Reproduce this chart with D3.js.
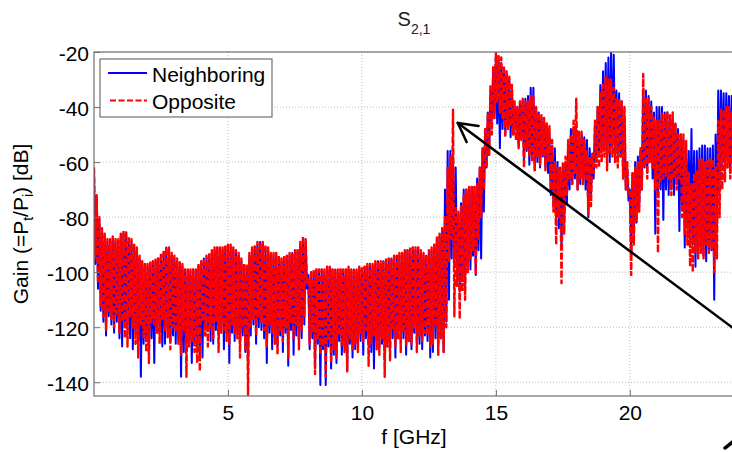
<!DOCTYPE html>
<html>
<head>
<meta charset="utf-8">
<script src="https://cdn.jsdelivr.net/npm/d3@7"></script>
<style>
  html, body { margin: 0; padding: 0; background: #fff; }
  svg { display: block; font-family: "Liberation Sans", Arial, sans-serif; }
</style>
</head>
<body>
<svg id="chart" width="732" height="453"></svg>
<script>
// Sweep grid of the measurement (GHz)
const fStart = 0;
const fStep = 0.05;

// S21 gain, neighboring placement [dB], one row per GHz
const neighboring = [
  -63, -97, -74, -106, -81, -114, -85, -118, -87, -123, -89, -116, -89, -119, -88, -122, -89, -118, -89, -124,
  -87, -127, -86, -120, -86, -121, -88, -124, -89, -128, -91, -122, -92, -125, -95, -138, -97, -126, -97, -125,
  -98, -129, -97, -124, -96, -133, -96, -120, -95, -122, -94, -127, -93, -126, -91, -121, -92, -125, -94, -123,
  -95, -126, -96, -124, -97, -138, -98, -129, -99, -129, -100, -124, -100, -133, -99, -126, -100, -127, -98, -130,
  -97, -131, -95, -120, -95, -121, -94, -125, -93, -126, -92, -121, -91, -123, -92, -119, -92, -128, -91, -122,
  -91, -133, -91, -122, -92, -125, -93, -121, -94, -127, -96, -123, -98, -129, -98, -136, -94, -123, -92, -119,
  -91, -126, -90, -120, -89, -121, -90, -124, -91, -133, -92, -122, -94, -128, -94, -124, -93, -127, -95, -123,
  -96, -129, -95, -122, -94, -134, -94, -121, -93, -130, -93, -123, -92, -126, -90, -124, -88, -119, -89, -106,
  -101, -128, -100, -124, -100, -135, -99, -126, -100, -141, -99, -128, -100, -141, -98, -127, -99, -135, -99, -130,
  -99, -133, -100, -125, -99, -130, -100, -127, -99, -136, -99, -126, -100, -131, -99, -128, -100, -127, -99, -125,
  -99, -130, -98, -124, -98, -126, -97, -129, -98, -135, -97, -125, -96, -127, -97, -126, -96, -132, -96, -127,
  -96, -128, -95, -124, -95, -131, -94, -122, -94, -126, -93, -124, -93, -130, -92, -125, -92, -128, -91, -122,
  -92, -124, -91, -126, -93, -128, -94, -123, -94, -125, -93, -131, -92, -129, -90, -124, -88, -126, -87, -122,
  -84, -129, -70, -118, -56, -110, -56, -95, -58, -98, -62, -100, -80, -107, -75, -102, -70, -107, -70, -98,
  -70, -99, -69, -94, -69, -101, -66, -92, -62, -95, -56, -78, -50, -62, -42, -55, -34, -45, -27, -42,
  -22, -46, -23, -55, -24, -48, -26, -50, -28, -47, -30, -51, -34, -50, -40, -48, -40, -54, -38, -50,
  -38, -60, -37, -56, -36, -61, -33, -58, -33, -63, -40, -60, -42, -62, -44, -58, -45, -62, -47, -64,
  -50, -72, -54, -76, -55, -80, -60, -84, -63, -90, -62, -82, -60, -75, -54, -70, -48, -68, -48, -66,
  -48, -70, -50, -68, -50, -66, -51, -70, -52, -80, -55, -72, -57, -66, -46, -60, -40, -58, -32, -56,
  -27, -55, -24, -58, -22, -60, -20, -54, -21, -58, -34, -57, -35, -58, -38, -66, -44, -70, -62, -74,
  -70, -93, -64, -86, -60, -82, -58, -76, -56, -70, -34, -62, -34, -64, -36, -60, -38, -66, -42, -86,
  -40, -72, -40, -70, -40, -81, -42, -70, -42, -72, -44, -70, -44, -72, -46, -68, -48, -85, -50, -76,
  -52, -91, -54, -84, -56, -88, -48, -90, -56, -98, -56, -92, -55, -90, -54, -94, -54, -96, -55, -92,
  -55, -92, -54, -110, -50, -84, -34, -70, -34, -60, -35, -62, -35, -58, -36, -64, -36, -60, -38, -62,
  -38
];

// S21 gain, opposite placement [dB], one row per GHz
const opposite = [
  -62, -95, -72, -104, -80, -112, -84, -116, -86, -121, -88, -114, -88, -117, -87, -120, -88, -115, -88, -122,
  -86, -118, -85, -124, -85, -127, -87, -116, -88, -120, -90, -126, -91, -131, -94, -119, -96, -124, -97, -129,
  -97, -133, -96, -118, -96, -119, -95, -122, -95, -126, -93, -117, -92, -121, -91, -124, -91, -128, -93, -120,
  -94, -122, -95, -126, -96, -130, -97, -121, -99, -138, -99, -127, -99, -125, -99, -129, -99, -133, -97, -136,
  -96, -118, -95, -123, -94, -127, -93, -120, -92, -124, -91, -118, -91, -129, -91, -122, -91, -121, -90, -125,
  -90, -126, -90, -119, -91, -122, -92, -124, -93, -131, -95, -120, -97, -128, -97, -145, -93, -120, -91, -117,
  -90, -123, -89, -116, -89, -118, -89, -121, -90, -127, -91, -119, -93, -122, -93, -126, -93, -130, -94, -121,
  -95, -125, -94, -120, -94, -131, -93, -118, -93, -124, -92, -119, -92, -128, -89, -121, -87, -116, -88, -104,
  -102, -126, -100, -122, -99, -137, -99, -124, -99, -130, -99, -127, -99, -138, -98, -125, -98, -133, -99, -128,
  -99, -131, -99, -123, -99, -127, -99, -129, -99, -136, -98, -124, -99, -128, -99, -126, -99, -129, -98, -122,
  -98, -125, -98, -121, -97, -134, -97, -126, -97, -123, -96, -128, -96, -130, -96, -124, -96, -138, -95, -127,
  -95, -132, -95, -121, -94, -127, -94, -124, -93, -129, -93, -122, -92, -127, -92, -125, -91, -126, -91, -120,
  -91, -129, -91, -123, -92, -125, -93, -122, -94, -123, -92, -127, -91, -126, -90, -120, -87, -130, -86, -124,
  -84, -129, -80, -120, -62, -96, -58, -88, -41, -116, -76, -105, -78, -117, -76, -107, -72, -110, -70, -100,
  -69, -95, -69, -92, -69, -101, -68, -88, -62, -80, -55, -70, -48, -62, -42, -58, -32, -50, -25, -44,
  -20, -38, -21, -42, -22, -44, -25, -51, -27, -48, -29, -47, -32, -50, -38, -52, -40, -55, -38, -52,
  -37, -62, -38, -55, -38, -58, -36, -60, -36, -63, -40, -58, -42, -61, -43, -57, -44, -63, -46, -60,
  -47, -70, -52, -78, -60, -90, -62, -80, -62, -104, -60, -86, -58, -72, -52, -66, -50, -68, -45, -64,
  -37, -70, -49, -66, -49, -68, -52, -66, -56, -79, -58, -76, -57, -64, -45, -62, -40, -62, -35, -60,
  -32, -58, -29, -63, -30, -57, -30, -58, -33, -60, -37, -62, -37, -58, -38, -66, -40, -70, -60, -72,
  -71, -101, -64, -90, -62, -81, -60, -78, -55, -70, -28, -62, -37, -66, -37, -60, -40, -62, -44, -70,
  -45, -93, -45, -67, -42, -66, -43, -65, -42, -66, -43, -72, -42, -66, -46, -70, -50, -66, -50, -80,
  -50, -86, -52, -90, -64, -98, -68, -100, -64, -93, -63, -95, -59, -93, -59, -95, -60, -90, -59, -93,
  -59, -92, -59, -100, -62, -95, -45, -80, -41, -70, -41, -67, -40, -62, -40, -66, -42, -60, -44, -64,
  -45
];

// Axis ticks
const xTicks = [5, 10, 15, 20];
const yTicks = [-20, -40, -60, -80, -100, -120, -140];
const xDomain = [0, 24];
const yDomain = [-145, -20];

// Legend entries
const seriesNames = ["Neighboring", "Opposite"];

// Annotation arrow, in data units (tip first)
const arrowPoints = [[13.58, -45.8], [25, -128.6]];
const cornerStroke = [[23.55, -163.9], [23.85, -161.6]];

const svg = d3.select("#chart");
const plot = { left: 94, top: 52, right: 737, bottom: 396 };

const x = d3.scaleLinear().domain(xDomain).range([plot.left, plot.right]);
const y = d3.scaleLinear().domain(yDomain).range([plot.bottom, plot.top]);

const fontSize = 21;
const axisColor = "#707070";
const gridColor = "#bdbdbd";
const redDash = "7,2";

svg.append("defs").append("clipPath").attr("id", "plotClip")
  .append("rect")
  .attr("x", plot.left).attr("y", plot.top)
  .attr("width", plot.right - plot.left).attr("height", plot.bottom - plot.top);

// Grid
const grid = svg.append("g");
grid.selectAll("line.gx").data(xTicks).join("line")
  .attr("x1", d => x(d)).attr("x2", d => x(d))
  .attr("y1", plot.top).attr("y2", plot.bottom)
  .attr("stroke", gridColor).attr("stroke-width", 1).attr("stroke-dasharray", "1,2");
grid.selectAll("line.gy").data(yTicks).join("line")
  .attr("x1", plot.left).attr("x2", plot.right)
  .attr("y1", d => y(d)).attr("y2", d => y(d))
  .attr("stroke", gridColor).attr("stroke-width", 1).attr("stroke-dasharray", "1,2");

// Data lines
const toPoints = arr => arr.map((v, i) => [fStart + i * fStep, v]);
const line = d3.line().x(d => x(d[0])).y(d => y(d[1]));

const dataG = svg.append("g").attr("clip-path", "url(#plotClip)");
dataG.append("path")
  .attr("d", line(toPoints(neighboring)))
  .attr("fill", "none").attr("stroke", "#0000ff").attr("stroke-width", 2)
  .attr("stroke-linejoin", "round");
dataG.append("path")
  .attr("d", line(toPoints(opposite)))
  .attr("fill", "none").attr("stroke", "#ff0000").attr("stroke-width", 2.4)
  .attr("stroke-dasharray", redDash).attr("stroke-linejoin", "round");

// Axes frame with inward ticks
const axes = svg.append("g");
axes.append("rect")
  .attr("x", plot.left).attr("y", plot.top)
  .attr("width", plot.right - plot.left).attr("height", plot.bottom - plot.top)
  .attr("fill", "none").attr("stroke", axisColor).attr("stroke-width", 1.2);

const xAxis = d3.axisBottom(x).tickValues(xTicks).tickSize(-6).tickPadding(14)
  .tickFormat(d3.format("d"));
const yAxis = d3.axisLeft(y).tickValues(yTicks).tickSize(-6).tickPadding(10)
  .tickFormat(d => String(d).replace("\u2212", "-"));

const gx = axes.append("g").attr("transform", `translate(0,${plot.bottom})`).call(xAxis);
const gy = axes.append("g").attr("transform", `translate(${plot.left},0)`).call(yAxis);
[gx, gy].forEach(g => {
  g.select(".domain").remove();
  g.selectAll(".tick line").attr("stroke", axisColor);
  g.selectAll(".tick text").attr("fill", "#000").attr("font-size", fontSize)
    .attr("font-family", "'Liberation Sans', Arial, sans-serif");
});
gx.selectAll(".tick text").attr("dy", null).attr("y", 24);
gy.selectAll(".tick text").attr("dy", null).attr("y", 8).attr("x", -5);

// Title
const title = svg.append("text")
  .attr("x", 414).attr("y", 26).attr("text-anchor", "middle")
  .attr("font-size", 20).attr("fill", "#222");
title.append("tspan").text("S");
title.append("tspan").attr("font-size", 14).attr("dy", 8).text("2,1");

// X label
svg.append("text")
  .attr("x", 414).attr("y", 444).attr("text-anchor", "middle")
  .attr("font-size", fontSize).attr("fill", "#000")
  .text("f [GHz]");

// Y label
const yl = svg.append("text")
  .attr("transform", `translate(28,${(plot.top + plot.bottom) / 2}) rotate(-90)`)
  .attr("text-anchor", "middle")
  .attr("font-size", fontSize).attr("fill", "#000");
yl.append("tspan").text("Gain (=P");
yl.append("tspan").attr("font-size", 14).attr("dy", 5).text("t");
yl.append("tspan").attr("dy", -5).text("/P");
yl.append("tspan").attr("font-size", 14).attr("dy", 5).text("i");
yl.append("tspan").attr("dy", -5).text(") [dB]");

// Legend
const legend = svg.append("g");
legend.append("rect")
  .attr("x", 100).attr("y", 59).attr("width", 172).attr("height", 58)
  .attr("fill", "#fff").attr("stroke", "#555").attr("stroke-width", 1);
const legendStyles = [
  { color: "#0000ff", dash: null, x1: 108 },
  { color: "#ff0000", dash: "6,2.5", x1: 110 }
];
seriesNames.forEach((name, i) => {
  const cy = 73 + i * 27.5;
  legend.append("line")
    .attr("x1", legendStyles[i].x1).attr("x2", 147).attr("y1", cy).attr("y2", cy)
    .attr("stroke", legendStyles[i].color).attr("stroke-width", 2.2)
    .attr("stroke-dasharray", legendStyles[i].dash);
  legend.append("text")
    .attr("x", 152).attr("y", cy + 8.5)
    .attr("font-size", fontSize).attr("fill", "#000")
    .text(name);
});

// Annotation arrow
const ann = svg.append("g").attr("stroke", "#000").attr("fill", "none")
  .attr("stroke-linecap", "round");
const tip = [x(arrowPoints[0][0]), y(arrowPoints[0][1])];
const tail = [x(arrowPoints[1][0]), y(arrowPoints[1][1])];
ann.append("line")
  .attr("x1", tip[0]).attr("y1", tip[1]).attr("x2", tail[0]).attr("y2", tail[1])
  .attr("stroke-width", 2.5);
const ang = Math.atan2(tail[1] - tip[1], tail[0] - tip[0]);
const wing = 21, spread = 0.5;
[ang - spread, ang + spread].forEach(a => {
  ann.append("line")
    .attr("x1", tip[0]).attr("y1", tip[1])
    .attr("x2", tip[0] + wing * Math.cos(a)).attr("y2", tip[1] + wing * Math.sin(a))
    .attr("stroke-width", 2.5);
});
ann.append("line")
  .attr("x1", x(cornerStroke[0][0])).attr("y1", y(cornerStroke[0][1]))
  .attr("x2", x(cornerStroke[1][0])).attr("y2", y(cornerStroke[1][1]))
  .attr("stroke-width", 3.5);
</script>
</body>
</html>
